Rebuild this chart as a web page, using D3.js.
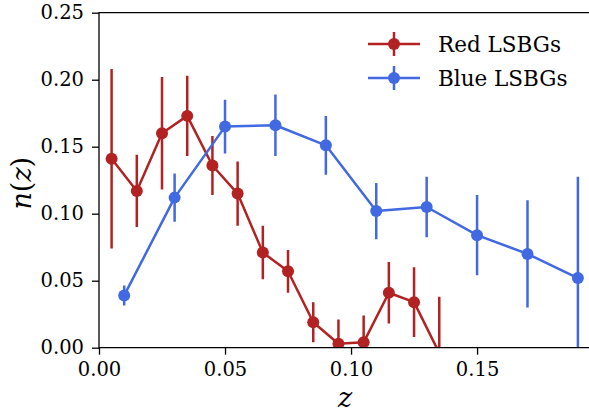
<!DOCTYPE html>
<html>
<head>
<meta charset="utf-8">
<script src="https://cdn.jsdelivr.net/npm/d3@7/dist/d3.min.js"></script>
<style>
  html, body { margin: 0; padding: 0; background: #fff; }
  svg { display: block; }
</style>
</head>
<body>
<svg id="chart" width="589" height="414"></svg>
<script>
// Redshift distribution n(z) of red and blue LSBGs
const redZ    = [0.005, 0.015, 0.025, 0.035, 0.045, 0.055, 0.065, 0.075, 0.085, 0.095, 0.105, 0.115, 0.125, 0.135];
const redN    = [0.141, 0.117, 0.160, 0.173, 0.136, 0.115, 0.071, 0.057, 0.019, 0.003, 0.004, 0.041, 0.034, -0.004];
const redErr  = [0.067, 0.027, 0.042, 0.030, 0.022, 0.024, 0.020, 0.016, 0.015, 0.018, 0.020, 0.023, 0.026, 0.042];

const blueZ   = [0.01, 0.03, 0.05, 0.07, 0.09, 0.11, 0.13, 0.15, 0.17, 0.19];
const blueN   = [0.039, 0.112, 0.165, 0.166, 0.151, 0.102, 0.105, 0.084, 0.070, 0.052];
const blueErr = [0.0075, 0.018, 0.020, 0.023, 0.022, 0.021, 0.0225, 0.030, 0.040, 0.0755];

const xTicks = [0.00, 0.05, 0.10, 0.15];
const yTicks = [0.00, 0.05, 0.10, 0.15, 0.20, 0.25];

const seriesNames  = ["Red LSBGs", "Blue LSBGs"];
const seriesColors = ["#b22222", "#4169e1"];

const FONT = "'DejaVu Serif', 'Liberation Serif', 'Times New Roman', serif";

const svg = d3.select("#chart");
const mLeft = 99, mRight = 591, mTop = 12.7, mBottom = 347.7;

const x = d3.scaleLinear().domain([0, 0.1952]).range([mLeft, mRight]);
const y = d3.scaleLinear().domain([0, 0.25]).range([mBottom, mTop]);

svg.append("defs").append("clipPath").attr("id", "plotArea")
  .append("rect").attr("x", mLeft).attr("y", mTop)
  .attr("width", mRight - mLeft).attr("height", mBottom - mTop);

const series = [
  { name: seriesNames[0], color: seriesColors[0],
    pts: redZ.map((z, i) => ({ z, n: redN[i], e: redErr[i] })) },
  { name: seriesNames[1], color: seriesColors[1],
    pts: blueZ.map((z, i) => ({ z, n: blueN[i], e: blueErr[i] })) }
];

const plot = svg.append("g").attr("clip-path", "url(#plotArea)");
const line = d3.line().x(d => x(d.z)).y(d => y(d.n));

series.forEach(s => {
  const g = plot.append("g");
  g.selectAll("line.err").data(s.pts).join("line")
    .attr("class", "err")
    .attr("x1", d => x(d.z)).attr("x2", d => x(d.z))
    .attr("y1", d => y(d.n - d.e)).attr("y2", d => y(d.n + d.e))
    .attr("stroke", s.color).attr("stroke-width", 2.5);
  g.append("path").datum(s.pts)
    .attr("d", line).attr("fill", "none")
    .attr("stroke", s.color).attr("stroke-width", 2.5)
    .attr("stroke-linejoin", "round");
  g.selectAll("circle").data(s.pts).join("circle")
    .attr("cx", d => x(d.z)).attr("cy", d => y(d.n)).attr("r", 6)
    .attr("fill", s.color);
});

// Axes
const fmt = d3.format(".2f");
const xAxis = svg.append("g").attr("transform", `translate(0,${mBottom})`)
  .call(d3.axisBottom(x).tickValues(xTicks).tickFormat(fmt).tickSize(7).tickPadding(7).tickSizeOuter(0));
const yAxis = svg.append("g").attr("transform", `translate(${mLeft},0)`)
  .call(d3.axisLeft(y).tickValues(yTicks).tickFormat(fmt).tickSize(7).tickPadding(8).tickSizeOuter(0));

[xAxis, yAxis].forEach(a => {
  a.attr("font-family", null).attr("font-size", null);
  a.select(".domain").remove();
  a.selectAll(".tick line").attr("stroke", "#000").attr("stroke-width", 1.3);
  a.selectAll(".tick text")
    .style("font-family", FONT).style("font-size", "19.5px").attr("fill", "#000");
});

// Spines: left, bottom, top
svg.append("path")
  .attr("d", `M${mRight},${mTop}H${mLeft}V${mBottom}H${mRight}`)
  .attr("fill", "none").attr("stroke", "#000").attr("stroke-width", 1.3);

// Axis labels
const xl = svg.append("text").attr("x", (mLeft + mRight) / 2).attr("y", 407)
  .attr("text-anchor", "middle")
  .style("font-family", FONT).style("font-size", "27px");
xl.append("tspan").style("font-style", "italic").text("z");

const yl = svg.append("text")
  .attr("transform", `translate(31,${(mTop + mBottom) / 2 + 3}) rotate(-90)`)
  .attr("text-anchor", "middle")
  .style("font-family", FONT).style("font-size", "27px");
yl.append("tspan").style("font-style", "italic").text("n");
yl.append("tspan").text("(");
yl.append("tspan").style("font-style", "italic").text("z");
yl.append("tspan").text(")");

// Legend
const legend = svg.append("g");
series.forEach((s, i) => {
  const ly = 44 + i * 34;
  const g = legend.append("g");
  g.append("line").attr("x1", 368).attr("x2", 420).attr("y1", ly).attr("y2", ly)
    .attr("stroke", s.color).attr("stroke-width", 2.5);
  g.append("line").attr("x1", 394).attr("x2", 394).attr("y1", ly - 12).attr("y2", ly + 12)
    .attr("stroke", s.color).attr("stroke-width", 2.5);
  g.append("circle").attr("cx", 394).attr("cy", ly).attr("r", 6).attr("fill", s.color);
  g.append("text").attr("x", 438).attr("y", ly + 8)
    .style("font-family", FONT).style("font-size", "21.5px").text(s.name);
});
</script>
</body>
</html>
